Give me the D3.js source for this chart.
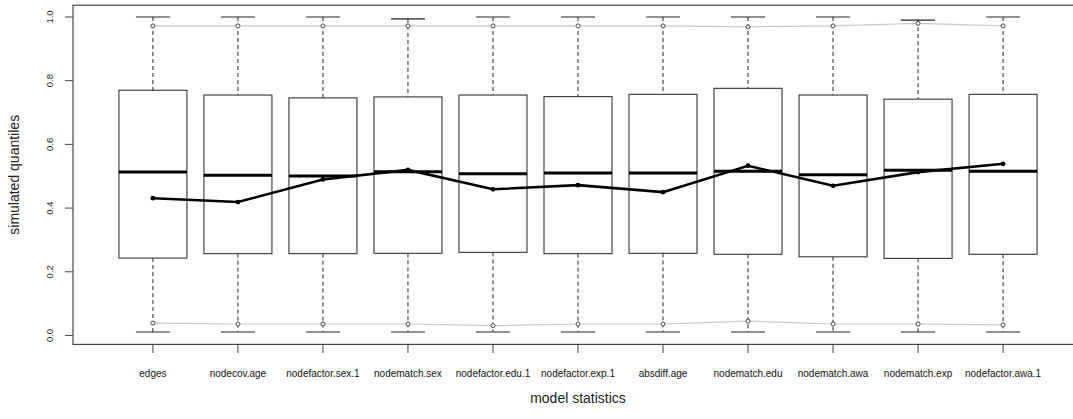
<!DOCTYPE html>
<html>
<head>
<meta charset='utf-8'>
<style>
body { margin: 0; background: #fff; font-family: "Liberation Sans", Arial, sans-serif; }
svg { display: block; }
.whisker { stroke: #222; stroke-dasharray: 4,3; }
</style>
</head>
<body>
<svg width="1073" height="419"></svg>
<script src="https://d3js.org/d3.v7.min.js"></script>
<script>
// model statistics and simulated quantiles
var stats = ["edges","nodecov.age","nodefactor.sex.1","nodematch.sex","nodefactor.edu.1",
             "nodefactor.exp.1","absdiff.age","nodematch.edu","nodematch.awa","nodematch.exp","nodefactor.awa.1"];
var maxs   = [1.0, 1.0, 1.0, 0.994, 1.0, 1.0, 1.0, 1.0, 1.0, 0.99, 1.0];
var q975   = [0.972, 0.972, 0.972, 0.972, 0.972, 0.972, 0.972, 0.969, 0.972, 0.980, 0.972];
var upperQ = [0.770, 0.755, 0.746, 0.749, 0.755, 0.750, 0.757, 0.776, 0.755, 0.742, 0.757];
var medians= [0.513, 0.503, 0.501, 0.514, 0.508, 0.510, 0.510, 0.516, 0.505, 0.519, 0.516];
var lowerQ = [0.243, 0.257, 0.257, 0.258, 0.261, 0.257, 0.258, 0.255, 0.247, 0.242, 0.255];
var q025   = [0.039, 0.036, 0.036, 0.036, 0.031, 0.036, 0.036, 0.045, 0.036, 0.036, 0.033];
var mins   = [0.011, 0.011, 0.011, 0.011, 0.011, 0.011, 0.011, 0.011, 0.011, 0.011, 0.011];
var observed = [0.431, 0.419, 0.490, 0.520, 0.459, 0.472, 0.450, 0.533, 0.470, 0.513, 0.539];
var yTicks = [0.0, 0.2, 0.4, 0.6, 0.8, 1.0];

var svg = d3.select("svg");
var x = d3.scaleLinear().domain([0.06, 11.94]).range([73, 1083]);
var y = d3.scaleLinear().domain([-0.028, 1.037]).range([344.4, 5.2]);
var bw = 0.4 * (x(2) - x(1));

var data = stats.map(function(s, i) {
  return {name: s, i: i + 1, max: maxs[i], hi: q975[i], q3: upperQ[i], med: medians[i],
          q1: lowerQ[i], lo: q025[i], min: mins[i], obs: observed[i]};
});

// grey quantile lines
var gline = d3.line().x(function(d) { return x(d[0]); }).y(function(d) { return y(d[1]); });
["hi", "lo"].forEach(function(k) {
  svg.append("path")
    .attr("d", gline(data.map(function(d) { return [d.i, d[k]]; })))
    .attr("fill", "none").attr("stroke", "#c8c8c8").attr("stroke-width", 1.2);
});

var g = svg.append("g").selectAll("g").data(data).enter().append("g");

// whiskers
g.append("line").attr("class", "whisker")
  .attr("x1", function(d) { return x(d.i); }).attr("x2", function(d) { return x(d.i); })
  .attr("y1", function(d) { return y(d.max); }).attr("y2", function(d) { return y(d.q3); });
g.append("line").attr("class", "whisker")
  .attr("x1", function(d) { return x(d.i); }).attr("x2", function(d) { return x(d.i); })
  .attr("y1", function(d) { return y(d.q1); }).attr("y2", function(d) { return y(d.min); });
// staples
["max", "min"].forEach(function(k) {
  g.append("line")
    .attr("x1", function(d) { return x(d.i) - bw / 2; }).attr("x2", function(d) { return x(d.i) + bw / 2; })
    .attr("y1", function(d) { return y(d[k]); }).attr("y2", function(d) { return y(d[k]); })
    .attr("stroke", "#222").attr("stroke-width", 1.2);
});
// boxes
g.append("rect")
  .attr("x", function(d) { return x(d.i) - bw; })
  .attr("y", function(d) { return y(d.q3); })
  .attr("width", 2 * bw)
  .attr("height", function(d) { return y(d.q1) - y(d.q3); })
  .attr("fill", "#fff").attr("stroke", "#333").attr("stroke-width", 1.1);
g.append("line")
  .attr("x1", function(d) { return x(d.i) - bw; }).attr("x2", function(d) { return x(d.i) + bw; })
  .attr("y1", function(d) { return y(d.med); }).attr("y2", function(d) { return y(d.med); })
  .attr("stroke", "#000").attr("stroke-width", 3);
// quantile circles
["hi", "lo"].forEach(function(k) {
  g.append("circle")
    .attr("cx", function(d) { return x(d.i); }).attr("cy", function(d) { return y(d[k]); })
    .attr("r", 2).attr("fill", "#fff").attr("stroke", "#333").attr("stroke-width", 0.9);
});

// observed statistics
svg.append("path")
  .attr("d", gline(data.map(function(d) { return [d.i, d.obs]; })))
  .attr("fill", "none").attr("stroke", "#000").attr("stroke-width", 2.6);
svg.append("g").selectAll("circle").data(data).enter().append("circle")
  .attr("cx", function(d) { return x(d.i); }).attr("cy", function(d) { return y(d.obs); })
  .attr("r", 2.4).attr("fill", "#000");

// frame
svg.append("rect").attr("x", x.range()[0]).attr("y", y.range()[1])
  .attr("width", x.range()[1] - x.range()[0]).attr("height", y.range()[0] - y.range()[1])
  .attr("fill", "none").attr("stroke", "#444").attr("stroke-width", 1.2);

// y axis
var yAxis = svg.append("g");
yAxis.selectAll("line").data(yTicks).enter().append("line")
  .attr("x1", 65).attr("x2", 73).attr("y1", function(d) { return y(d); }).attr("y2", function(d) { return y(d); })
  .attr("stroke", "#444");
yAxis.selectAll("text").data(yTicks).enter().append("text")
  .attr("transform", function(d) { return "translate(53," + y(d) + ") rotate(-90)"; })
  .attr("text-anchor", "middle").attr("font-size", 9.5).attr("fill", "#222")
  .text(function(d) { return d.toFixed(1); });
svg.append("text")
  .attr("transform", "translate(19," + ((y.range()[0] + y.range()[1]) / 2) + ") rotate(-90)")
  .attr("text-anchor", "middle").attr("font-size", 14).attr("fill", "#222")
  .text("simulated quantiles");

// x axis
var xAxis = svg.append("g");
xAxis.selectAll("line").data(data).enter().append("line")
  .attr("x1", function(d) { return x(d.i); }).attr("x2", function(d) { return x(d.i); })
  .attr("y1", 344.4).attr("y2", 353).attr("stroke", "#444");
xAxis.selectAll("text").data(data).enter().append("text")
  .attr("x", function(d) { return x(d.i); }).attr("y", 377)
  .attr("text-anchor", "middle").attr("font-size", 10).attr("fill", "#111")
  .text(function(d) { return d.name; });
svg.append("text")
  .attr("x", (x.range()[0] + x.range()[1]) / 2).attr("y", 403)
  .attr("text-anchor", "middle").attr("font-size", 14).attr("fill", "#222")
  .text("model statistics");
</script>
</body>
</html>
